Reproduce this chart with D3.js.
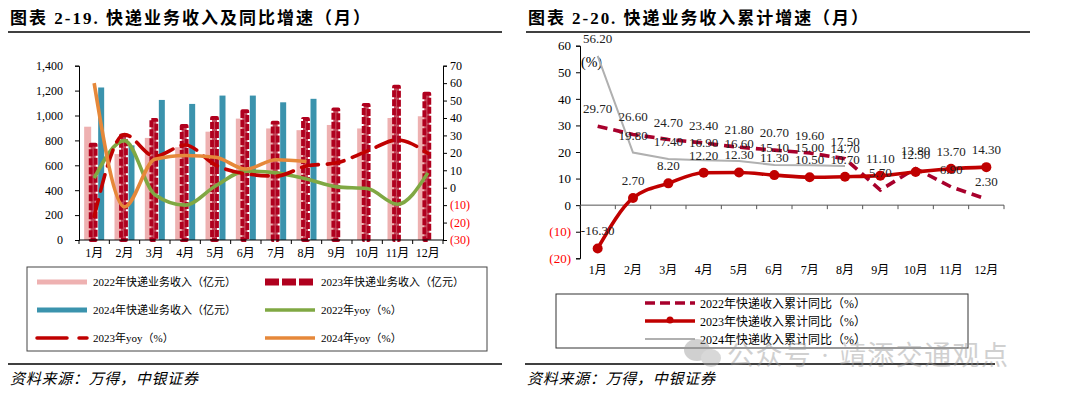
<!DOCTYPE html>
<html>
<head>
<meta charset="utf-8">
<script src="https://cdn.jsdelivr.net/npm/d3@7"></script>
<style>
	body { margin: 0; background: #fff; }
	text { font-family: "Liberation Serif", "Noto Sans CJK SC", serif; }
</style>
</head>
<body>
<svg id="main" width="1080" height="399"></svg>
<script>
// data
const months = ['1月', '2月', '3月', '4月', '5月', '6月', '7月', '8月', '9月', '10月', '11月', '12月'];
const rev2022 = [910, 690, 820, 745, 870, 975, 896, 882, 924, 896, 980, 994];
const rev2023 = [780, 855, 980, 930, 995, 1050, 958, 987, 1064, 1099, 1246, 1190];
const rev2024 = [1225, 760, 1125, 1093, 1160, 1160, 1106, 1134];
const yoy2022 = [5.5, 27, -4, -10, 1, 9.5, 8.5, 5, 0.5, -0.5, -9.5, 8.5];
const yoy2023 = [-16.5, 30.5, 18, 24.5, 13, 8, 6.7, 12.4, 14.3, 21, 27.4, 19.7];
const yoy2024 = [60, -11, 16.3, 18.5, 17.5, 10.7, 16, 15];

const cum2022 = [29.7, 26.6, 24.7, 23.4, 21.8, 20.7, 19.6, 17.5, 5.7, 13.8, 6.9, 2.3];
const cum2023 = [-16.3, 2.7, 8.2, 12.2, 12.3, 11.3, 10.5, 10.7, 11.1, 12.5, 13.7, 14.3];
const cum2024 = [56.2, 19.8, 17.4, 16.9, 16.6, 15.1, 15.0, 14.7];

const leftTicks = [0, 200, 400, 600, 800, 1000, 1200, 1400];
const rightTicks = [-30, -20, -10, 0, 10, 20, 30, 40, 50, 60, 70];
const cumTicks = [-20, -10, 0, 10, 20, 30, 40, 50, 60];

const svg = d3.select('#main');
svg.append('rect').attr('width', 1080).attr('height', 399).attr('fill', '#fff');

function pctFmt(v) {
	return v < 0 ? '(' + Math.abs(v) + ')' : String(v);
}

function title(x, txt, len) {
	svg.append('text').attr('x', x).attr('y', 24)
		.attr('font-size', 17).attr('font-weight', 'bold')
		.attr('textLength', len).attr('lengthAdjust', 'spacing')
		.text(txt);
}
title(10, '图表 2-19. 快递业务收入及同比增速（月）', 360);
title(528, '图表 2-20. 快递业务收入累计增速（月）', 340);
svg.append('line').attr('x1', 8).attr('x2', 502).attr('y1', 32).attr('y2', 32).attr('stroke', '#000').attr('stroke-width', 1.6);
svg.append('line').attr('x1', 526).attr('x2', 1030).attr('y1', 32).attr('y2', 32).attr('stroke', '#000').attr('stroke-width', 1.6);

// ---------- left chart ----------
let xL = d3.scaleBand().domain(months).range([79, 443]);
let yL = d3.scaleLinear().domain([0, 1400]).range([240, 65.7]);
let yR = d3.scaleLinear().domain([-30, 70]).range([240, 65.7]);
let gL = svg.append('g');

// bars
gL.selectAll('.b22').data(rev2022).enter().append('rect')
	.attr('x', (d, i) => xL(months[i]) + xL.bandwidth() / 2 - 10)
	.attr('width', 7)
	.attr('y', d => yL(d)).attr('height', d => yL(0) - yL(d))
	.attr('fill', '#eeb1b1');
gL.selectAll('.b23').data(rev2023).enter().append('rect')
	.attr('x', (d, i) => xL(months[i]) + xL.bandwidth() / 2 - 3.5)
	.attr('width', 5)
	.attr('y', d => yL(d) + 1.8).attr('height', d => yL(0) - yL(d) - 1.8)
	.attr('fill', '#c4485c')
	.attr('stroke', '#b0001e').attr('stroke-width', 3.8)
	.attr('stroke-dasharray', '7,2').attr('stroke-linejoin', 'round');
gL.selectAll('.b24').data(rev2024).enter().append('rect')
	.attr('x', (d, i) => xL(months[i]) + xL.bandwidth() / 2 + 4)
	.attr('width', 6)
	.attr('y', d => yL(d)).attr('height', d => yL(0) - yL(d))
	.attr('fill', '#3b93ad');

// yoy lines
let lineL = d3.line()
	.x((d, i) => xL(months[i]) + xL.bandwidth() / 2)
	.y(d => yR(d))
	.curve(d3.curveMonotoneX);
gL.append('path').datum(yoy2022).attr('d', lineL).attr('fill', 'none')
	.attr('stroke', '#80a843').attr('stroke-width', 3.6);
gL.append('path').datum(yoy2023).attr('d', lineL).attr('fill', 'none')
	.attr('stroke', '#c00000').attr('stroke-width', 3.6)
	.attr('stroke-dasharray', '17,9').attr('stroke-linecap', 'round');
gL.append('path').datum(yoy2024).attr('d', lineL).attr('fill', 'none')
	.attr('stroke', '#e6883a').attr('stroke-width', 3.6);

// axes
let axL = gL.append('g').attr('transform', 'translate(79,0)')
	.call(d3.axisLeft(yL).tickValues(leftTicks).tickFormat(d3.format(',')).tickSize(4).tickPadding(12));
let axR = gL.append('g').attr('transform', 'translate(443,0)')
	.call(d3.axisRight(yR).tickValues(rightTicks).tickFormat(pctFmt).tickSize(4).tickPadding(3));
axR.selectAll('text').attr('fill', d => d < 0 ? '#ff0000' : '#000');
gL.append('line').attr('x1', 79).attr('x2', 443).attr('y1', yL(0)).attr('y2', yL(0)).attr('stroke', '#000');
gL.selectAll('.xt').data(d3.range(months.length + 1)).enter().append('line')
	.attr('x1', i => xL.range()[0] + i * xL.bandwidth())
	.attr('x2', i => xL.range()[0] + i * xL.bandwidth())
	.attr('y1', yL(0)).attr('y2', yL(0) + 4).attr('stroke', '#000');
gL.selectAll('.xl').data(months).enter().append('text')
	.attr('x', d => xL(d) + xL.bandwidth() / 2).attr('y', 257)
	.attr('text-anchor', 'middle').attr('font-size', 12).text(d => d);
[axL, axR].forEach(a => {
	a.selectAll('text').attr('font-size', 12).attr('font-family', '"Liberation Serif", serif');
	a.select('.domain').attr('stroke', '#000');
});

// left legend
let legL = svg.append('g');
legL.append('rect').attr('x', 27).attr('y', 267).attr('width', 460).attr('height', 84)
	.attr('fill', 'none').attr('stroke', '#444');
const legItemsL = [
	{ t: '2022年快递业务收入（亿元）', c: '#eeb1b1', w: 5, dash: null, col: 0, row: 0 },
	{ t: '2023年快递业务收入（亿元）', c: '#b0001e', w: 7, dash: '14,3', col: 1, row: 0 },
	{ t: '2024年快递业务收入（亿元）', c: '#3b93ad', w: 5, dash: null, col: 0, row: 1 },
	{ t: '2022年yoy（%）', c: '#80a843', w: 3.5, dash: null, col: 1, row: 1 },
	{ t: '2023年yoy（%）', c: '#c00000', w: 3.5, dash: '30,12', col: 0, row: 2 },
	{ t: '2024年yoy（%）', c: '#e6883a', w: 3.5, dash: null, col: 1, row: 2 }
];
legItemsL.forEach(d => {
	let x0 = d.col ? 265 : 37, y0 = 282 + d.row * 28;
	legL.append('line').attr('x1', x0).attr('x2', x0 + 50).attr('y1', y0).attr('y2', y0)
		.attr('stroke', d.c).attr('stroke-width', d.w)
		.attr('stroke-dasharray', d.dash).attr('stroke-linecap', d.dash && d.w < 5 ? 'round' : 'butt');
	legL.append('text').attr('x', x0 + 56).attr('y', y0 + 4).attr('font-size', 11).text(d.t);
});

// ---------- right chart ----------
let xC = d3.scaleBand().domain(months).range([580, 1004]);
let yC = d3.scaleLinear().domain([-20, 60]).range([258.3, 45.7]);
let gR = svg.append('g');
let cx = (d, i) => xC(months[i]) + xC.bandwidth() / 2;

let axC = gR.append('g').attr('transform', 'translate(580,0)')
	.call(d3.axisLeft(yC).tickValues(cumTicks).tickFormat(pctFmt).tickSize(4).tickPadding(5));
axC.selectAll('text').attr('font-size', 13).attr('font-family', '"Liberation Serif", serif')
	.attr('fill', d => d < 0 ? '#ff0000' : '#000');
axC.select('.domain').attr('stroke', '#000');
gR.append('line').attr('x1', 580).attr('x2', 1004).attr('y1', yC(0)).attr('y2', yC(0)).attr('stroke', '#555');
gR.selectAll('.xt').data(d3.range(months.length + 1)).enter().append('line')
	.attr('x1', i => xC.range()[0] + i * xC.bandwidth())
	.attr('x2', i => xC.range()[0] + i * xC.bandwidth())
	.attr('y1', yC(0)).attr('y2', yC(0) + 4).attr('stroke', '#555');
gR.selectAll('.xl').data(months).enter().append('text')
	.attr('x', d => xC(d) + xC.bandwidth() / 2).attr('y', 274)
	.attr('text-anchor', 'middle').attr('font-size', 12).text(d => d);
gR.append('text').attr('x', 581).attr('y', 67).attr('font-size', 14).text('(%)');

gR.append('path').datum(cum2024).attr('fill', 'none')
	.attr('d', d3.line().x(cx).y(d => yC(d)))
	.attr('stroke', '#b0b0b0').attr('stroke-width', 2);
gR.append('path').datum(cum2022).attr('fill', 'none')
	.attr('d', d3.line().x(cx).y(d => yC(d)))
	.attr('stroke', '#a8002c').attr('stroke-width', 3.6)
	.attr('stroke-dasharray', '10,6');
gR.append('path').datum(cum2023).attr('fill', 'none')
	.attr('d', d3.line().x(cx).y(d => yC(d)).curve(d3.curveMonotoneX))
	.attr('stroke', '#c00000').attr('stroke-width', 3.6);
gR.selectAll('.dot').data(cum2023).enter().append('circle')
	.attr('cx', cx).attr('cy', d => yC(d)).attr('r', 5).attr('fill', '#c00000');

[cum2022, cum2023, cum2024].forEach(s => {
	gR.selectAll(null).data(s).enter().append('text')
		.attr('x', cx).attr('y', d => yC(d) - 13)
		.attr('text-anchor', 'middle').attr('font-size', 13).attr('fill', '#222')
		.text(d => d.toFixed(2));
});

// right legend
let legR = svg.append('g');
legR.append('rect').attr('x', 556).attr('y', 294).attr('width', 412).attr('height', 54)
	.attr('fill', 'none').attr('stroke', '#333');
const legItemsR = [
	{ t: '2022年快递收入累计同比（%）', c: '#a8002c', w: 3.6, dash: '10,5', dot: false },
	{ t: '2023年快递收入累计同比（%）', c: '#c00000', w: 3.6, dash: null, dot: true },
	{ t: '2024年快递收入累计同比（%）', c: '#b0b0b0', w: 2, dash: null, dot: false }
];
legItemsR.forEach((d, i) => {
	let y0 = 303 + i * 18;
	legR.append('line').attr('x1', 645).attr('x2', 695).attr('y1', y0).attr('y2', y0)
		.attr('stroke', d.c).attr('stroke-width', d.w).attr('stroke-dasharray', d.dash);
	if (d.dot) legR.append('circle').attr('cx', 670).attr('cy', y0 - 1).attr('r', 3.5).attr('fill', d.c);
	legR.append('text').attr('x', 700).attr('y', y0 + 5).attr('font-size', 12).text(d.t);
});

// footer
svg.append('line').attr('x1', 8).attr('x2', 502).attr('y1', 364).attr('y2', 364).attr('stroke', '#000').attr('stroke-width', 1.6);
svg.append('line').attr('x1', 525).attr('x2', 995).attr('y1', 364).attr('y2', 364).attr('stroke', '#000').attr('stroke-width', 1.6);
['10', '527'].forEach(x => {
	svg.append('text').attr('x', +x).attr('y', 384).attr('font-size', 15)
		.attr('font-style', 'italic').attr('textLength', 188).attr('lengthAdjust', 'spacing')
		.text('资料来源：万得，中银证券');
});

// watermark
let wm = svg.append('g').attr('opacity', 0.45);
wm.append('ellipse').attr('cx', 697).attr('cy', 350).attr('rx', 13).attr('ry', 11).attr('fill', '#999');
wm.append('ellipse').attr('cx', 711).attr('cy', 358).attr('rx', 10).attr('ry', 9).attr('fill', '#aaa');
wm.append('text').attr('x', 727).attr('y', 365).attr('font-size', 27)
	.attr('textLength', 281).attr('lengthAdjust', 'spacing')
	.attr('font-family', '"Noto Sans CJK SC", sans-serif').attr('fill', '#999')
	.text('公众号 · 靖添交通观点');
</script>
</body>
</html>
